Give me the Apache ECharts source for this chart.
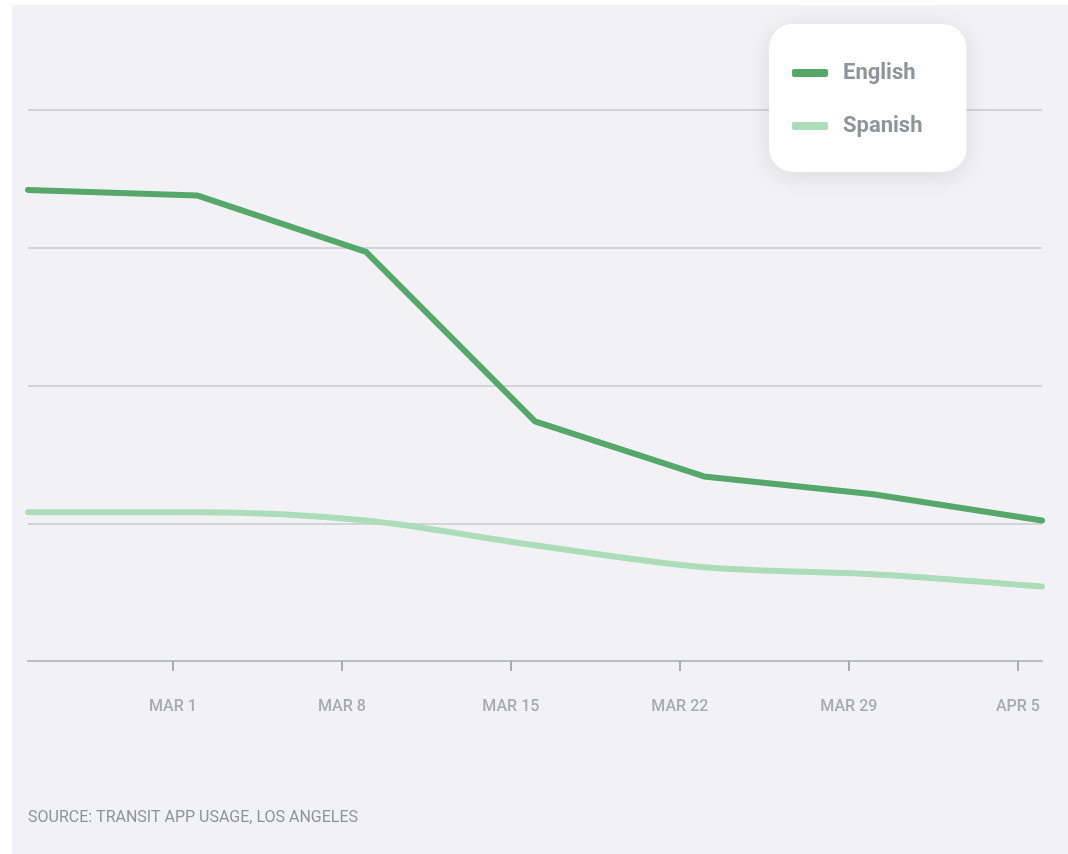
<!DOCTYPE html>
<html>
<head>
<meta charset="utf-8">
<script src="https://cdn.jsdelivr.net/npm/echarts@6/dist/echarts.min.js"></script>
<style>
html,body{margin:0;padding:0;background:#ffffff;}
#chart{width:1068px;height:854px;}
</style>
</head>
<body>
<div id="chart"></div>
<script>
// Daily categories from Feb 24 to Apr 6 (2020)
const days = ["FEB 24","FEB 25","FEB 26","FEB 27","FEB 28","FEB 29",
  "MAR 1","MAR 2","MAR 3","MAR 4","MAR 5","MAR 6","MAR 7","MAR 8","MAR 9","MAR 10",
  "MAR 11","MAR 12","MAR 13","MAR 14","MAR 15","MAR 16","MAR 17","MAR 18","MAR 19","MAR 20",
  "MAR 21","MAR 22","MAR 23","MAR 24","MAR 25","MAR 26","MAR 27","MAR 28","MAR 29","MAR 30",
  "MAR 31","APR 1","APR 2","APR 3","APR 4","APR 5","APR 6"];
const tickLabels = ["MAR 1","MAR 8","MAR 15","MAR 22","MAR 29","APR 5"];
const weekDates = ["FEB 24","MAR 2","MAR 9","MAR 16","MAR 23","MAR 30","APR 6"];
const english = [3.42, 3.38, 2.97, 1.74, 1.34, 1.21, 1.02];
const spanish = [1.08, 1.08, 1.02, 0.84, 0.68, 0.63, 0.54];

const chart = echarts.init(document.getElementById('chart'));
const isTick = (idx, val) => tickLabels.includes(val);
chart.setOption({
  backgroundColor: '#ffffff',
  animation: false,
  graphic: [{
    type: 'rect', left: 12, top: 5, z: -10,
    shape: {width: 1056, height: 849},
    style: {fill: '#f2f2f6'}
  }],
  title: {
    text: 'SOURCE: TRANSIT APP USAGE, LOS ANGELES',
    left: 23, top: 805,
    textStyle: {fontFamily: 'Roboto', fontSize: 16, fontWeight: 'normal', color: '#8f9398'}
  },
  legend: {
    orient: 'vertical',
    left: 769, top: 24,
    padding: [38, 44, 35, 23],
    itemGap: 31,
    itemWidth: 36, itemHeight: 8,
    icon: 'roundRect',
    backgroundColor: '#ffffff',
    borderRadius: 24,
    shadowBlur: 24,
    shadowColor: 'rgba(0,0,0,0.10)',
    shadowOffsetY: 4,
    textStyle: {fontFamily: 'Roboto', fontSize: 22, fontWeight: 'bold', color: '#8e949b', padding: [0,0,0,10]},
    data: ['English', 'Spanish']
  },
  grid: {left: 28, right: 26, top: 110, bottom: 193},
  xAxis: {
    type: 'category',
    data: days,
    boundaryGap: false,
    axisLine: {lineStyle: {color: '#b9bdbf', width: 2}},
    axisTick: {interval: isTick, length: 10, lineStyle: {color: '#a9adb0', width: 2}},
    axisLabel: {interval: isTick, margin: 38, fontFamily: 'Roboto', fontSize: 16, fontWeight: 500, color: '#a6abb0'},
    splitLine: {show: false}
  },
  yAxis: {
    type: 'value', min: 0, max: 4, interval: 1,
    axisLine: {show: false}, axisTick: {show: false}, axisLabel: {show: false},
    splitLine: {lineStyle: {color: '#c8cacd', width: 1.5}}
  },
  series: [
    {
      name: 'English', type: 'line', showSymbol: false, symbol: 'none',
      data: weekDates.map((d, i) => [d, english[i]]),
      lineStyle: {color: '#55a86a', width: 6, cap: 'round', join: 'round'},
      itemStyle: {color: '#55a86a'},
      z: 3
    },
    {
      name: 'Spanish', type: 'line', showSymbol: false, symbol: 'none', smooth: 0.3,
      data: weekDates.map((d, i) => [d, spanish[i]]),
      lineStyle: {color: '#acdcb8', width: 6, cap: 'round', join: 'round'},
      itemStyle: {color: '#acdcb8'},
      z: 2
    }
  ]
});
</script>
</body>
</html>
